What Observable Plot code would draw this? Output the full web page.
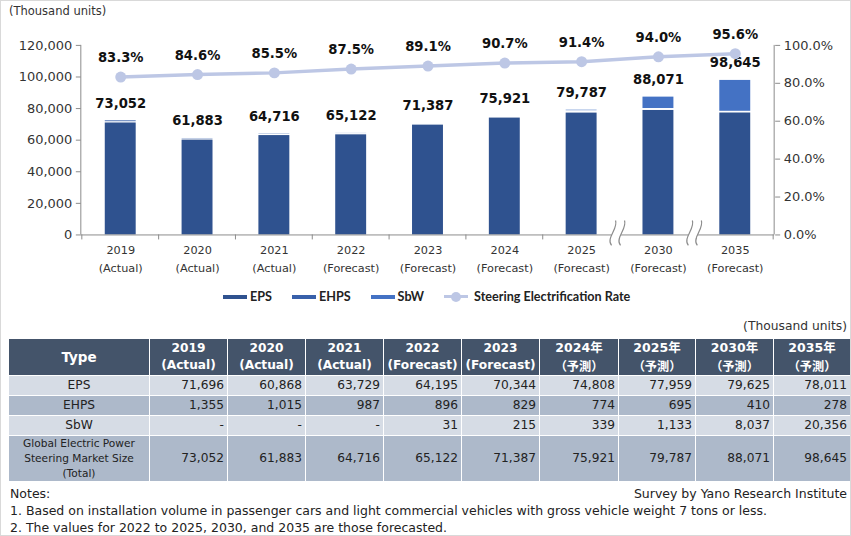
<!DOCTYPE html>
<html>
<head>
<meta charset="utf-8">
<script src="https://cdn.jsdelivr.net/npm/d3@7"></script>
<script src="https://cdn.jsdelivr.net/npm/@observablehq/plot@0.6"></script>
<style>
  html, body { margin: 0; padding: 0; background: #fff; }
  #root { position: relative; width: 851px; height: 536px; overflow: hidden; font-family: "DejaVu Sans", sans-serif; color: #222; box-sizing: border-box; border: 1px solid #d9d9d9; }
  #root > * { position: absolute; }
  .unit { font-size: 11.5px; color: #333; }
  #legend { left: 222px; top: 288px; display: flex; align-items: center; font-family: Lato, "Liberation Sans", sans-serif; font-weight: 700; font-size: 12.6px; color: #222; }
  #legend .item { display: flex; align-items: center; margin-right: 20px; }
  #legend .sw { width: 24px; height: 4px; margin-right: 3px; }
  #legend .ln { position: relative; width: 24px; height: 3px; margin-right: 6px; }
  #legend .ln i { position: absolute; left: 7px; top: -3.5px; width: 10px; height: 10px; border-radius: 50%; }
  table { border-collapse: collapse; table-layout: fixed; }
  td, th { border: 1px solid #fff; padding: 0 3px; font-size: 12.2px; }
  th { background: #44546A; color: #fff; font-weight: 700; font-size: 12.2px; line-height: 17px; height: 35px; text-align: center; }
  th span { display: block; }
  th.type { font-size: 13.5px; }
  th.cjk { font-family: "DejaVu Sans", "Noto Sans CJK JP", sans-serif; font-size: 12.5px; line-height: 18px; }
  th.cjk span.b { font-family: "Noto Sans CJK JP", sans-serif; font-size: 12.2px; }
  td { text-align: right; height: 19px; line-height: 19px; }
  td.lab { text-align: center; }
  td.lab.small { font-size: 10.6px; line-height: 15px; }
  tr.odd td { background: #D6DCE5; }
  tr.even td { background: #ADB9CA; }
  .notes { font-size: 12.5px; color: #222; line-height: 17px; }
</style>
</head>
<body>
<div id="root"></div>
<script>
// ---- data ----
const years = ["2019","2020","2021","2022","2023","2024","2025","2030","2035"];
const status = ["Actual","Actual","Actual","Forecast","Forecast","Forecast","Forecast","Forecast","Forecast"];
const tableHeadTop = ["2019","2020","2021","2022","2023","2024年","2025年","2030年","2035年"];
const tableHeadBottom = ["(Actual)","(Actual)","(Actual)","(Forecast)","(Forecast)","（予測）","（予測）","（予測）","（予測）"];
const types = ["EPS","EHPS","SbW"];
const eps  = [71696,60868,63729,64195,70344,74808,77959,79625,78011];
const ehps = [1355,1015,987,896,829,774,695,410,278];
const sbw  = [null,null,null,31,215,339,1133,8037,20356];
const total = [73052,61883,64716,65122,71387,75921,79787,88071,98645];
const rate = [83.3,84.6,85.5,87.5,89.1,90.7,91.4,94.0,95.6];
const leftTicks = [0,20000,40000,60000,80000,100000,120000];
const rightTicks = [0,20,40,60,80,100];
const breakAfter = ["2025","2030"];

const colors = ["#2F528F","#3860AA","#4472C4"];
const lineColor = "#BDC7E5";
const yMax = 120000;
const rateToY = r => r / 100 * yMax;

const series = [eps, ehps, sbw];
const stacked = [];
years.forEach((y, i) => types.forEach((t, k) => stacked.push({year: y, type: t, value: series[k][i] || 0})));
const points = years.map((y, i) => ({year: y, status: status[i], total: total[i], rate: rate[i]}));

const root = document.getElementById("root");

// unit label
const u1 = document.createElement("div");
u1.className = "unit"; u1.style.left = "8px"; u1.style.top = "3px";
u1.textContent = "(Thousand units)";
root.appendChild(u1);

// custom decoration mark: axis lines, band-boundary ticks, break symbols
function decor(index, scales, values, dim) {
  const {width, height, marginLeft, marginRight, marginTop, marginBottom} = dim;
  const n = years.length;
  const x = scales.x;
  let step = (width - marginLeft - marginRight) / n;
  if (x && x.step) step = x.step();
  const bw = x && x.bandwidth ? x.bandwidth() : 0;
  const center = y => (x ? x(y) + bw / 2 : marginLeft + step * (years.indexOf(y) + 0.5));
  const y0 = height - marginBottom;
  const g = d3.create("svg:g").attr("fill", "none").attr("stroke", "#8c8c8c");
  g.append("line").attr("x1", marginLeft).attr("x2", marginLeft).attr("y1", marginTop).attr("y2", y0);
  g.append("line").attr("x1", width - marginRight).attr("x2", width - marginRight).attr("y1", marginTop).attr("y2", y0);
  const bounds = [center(years[0]) - step / 2, ...years.map(y => center(y) + step / 2)];
  bounds.forEach(b => g.append("line").attr("x1", b).attr("x2", b).attr("y1", y0).attr("y2", y0 + 5));
  breakAfter.forEach(y => {
    const c = center(y) + step / 2;
    const c1 = `M${c-8},${y0+11} C${c-14},${y0+4} ${c-1},${y0-6} ${c-4},${y0-14}`;
    const c2 = `M${c+1},${y0+11} C${c-5},${y0+4} ${c+8},${y0-6} ${c+5},${y0-14}`;
    g.append("path").attr("d", `M${c-8},${y0+11} C${c-14},${y0+4} ${c-1},${y0-6} ${c-4},${y0-14} L${c+5},${y0-14} C${c+8},${y0-6} ${c-5},${y0+4} ${c+1},${y0+11} Z`)
      .attr("fill", "#fff").attr("stroke", "none");
    g.append("path").attr("d", c1).attr("stroke-width", 1.2);
    g.append("path").attr("d", c2).attr("stroke-width", 1.2);
  });
  return g.node();
}

const chart = Plot.plot({
  width: 851,
  height: 282,
  marginLeft: 80,
  marginRight: 76,
  marginTop: 44,
  marginBottom: 48,
  style: {fontFamily: "DejaVu Sans, sans-serif", fontSize: "13px", color: "#333", background: "transparent"},
  x: {domain: years, paddingInner: 0.6, paddingOuter: 0.3, axis: null},
  y: {domain: [0, yMax], axis: null},
  color: {domain: types, range: colors},
  marks: [
    Plot.barY(stacked, {x: "year", y: "value", fill: "type", insetTop: 1.3}),
    Plot.ruleY([0], {stroke: "#8c8c8c"}),
    decor,
    Plot.axisY(leftTicks, {anchor: "left", tickSize: 5, tickPadding: 4, stroke: "#8c8c8c", fill: "#333", tickFormat: d3.format(","), fontSize: 13}),
    Plot.axisY(rightTicks.map(rateToY), {anchor: "right", tickSize: 5, tickPadding: 4, stroke: "#8c8c8c", fill: "#333", tickFormat: v => (v / yMax * 100).toFixed(1) + "%", fontSize: 13}),
    Plot.text(points, {x: "year", frameAnchor: "bottom", lineAnchor: "top", dy: 7, lineHeight: 1.55, fontSize: 11.3, fill: "#333", text: d => `${d.year}\n(${d.status})`}),
    Plot.text(points, {x: "year", y: "total", dy: -16, text: d => d3.format(",")(d.total), fontWeight: "bold", fontSize: 13.2, fill: "#111"}),
    Plot.line(points, {x: "year", y: d => rateToY(d.rate), stroke: lineColor, strokeWidth: 3.5}),
    Plot.dot(points, {x: "year", y: d => rateToY(d.rate), r: 5.5, fill: lineColor}),
    Plot.text(points, {x: "year", y: d => rateToY(d.rate), dy: -19, text: d => d.rate.toFixed(1) + "%", fontWeight: "bold", fontSize: 13.2, fill: "#111"})
  ]
});
chart.style.left = "0px"; chart.style.top = "0px";
root.appendChild(chart);

// legend
const legend = document.createElement("div");
legend.id = "legend";
types.forEach((t, k) => {
  const it = document.createElement("div"); it.className = "item";
  it.innerHTML = `<span class="sw" style="background:${colors[k]}"></span><span>${t}</span>`;
  legend.appendChild(it);
});
const li = document.createElement("div"); li.className = "item";
li.innerHTML = `<span class="ln" style="background:${lineColor}"><i style="background:${lineColor}"></i></span><span>Steering Electrification Rate</span>`;
legend.appendChild(li);
root.appendChild(legend);

// table unit
const u2 = document.createElement("div");
u2.className = "unit"; u2.style.right = "3px"; u2.style.top = "318px"; u2.style.fontSize = "12.3px";
u2.textContent = "(Thousand units)";
root.appendChild(u2);

// table
const fmt = v => v == null ? "-" : d3.format(",")(v);
const widths = [141,78,78,78,78,78,79,77,78,77];
let html = "<colgroup>" + widths.map(w => `<col style="width:${w}px">`).join("") + "</colgroup>";
html += `<tr><th class="type">Type</th>` + tableHeadTop.map((t, i) =>
  `<th class="${i >= 5 ? 'cjk' : ''}"><span>${t}</span><span class="b">${tableHeadBottom[i]}</span></th>`).join("") + "</tr>";
const rows = [["EPS", eps, "odd"], ["EHPS", ehps, "even"], ["SbW", sbw, "odd"]];
rows.forEach(([name, arr, cls]) => {
  html += `<tr class="${cls}"><td class="lab">${name}</td>` + arr.map(v => `<td>${fmt(v)}</td>`).join("") + "</tr>";
});
html += `<tr class="even"><td class="lab small" style="height:45px">Global Electric Power<br>Steering Market Size<br>(Total)</td>` + total.map(v => `<td>${fmt(v)}</td>`).join("") + "</tr>";
const table = document.createElement("table");
table.innerHTML = html;
table.style.left = "7px"; table.style.top = "337px"; table.style.width = "843px";
root.appendChild(table);

// notes
const notes = document.createElement("div");
notes.className = "notes"; notes.style.left = "9px"; notes.style.top = "484px";
notes.innerHTML = "Notes:<br>1. Based on installation volume in passenger cars and light commercial vehicles with gross vehicle weight 7 tons or less.<br>2. The values for 2022 to 2025, 2030, and 2035 are those forecasted.";
root.appendChild(notes);
const src = document.createElement("div");
src.className = "notes"; src.style.right = "3px"; src.style.top = "484px";
src.textContent = "Survey by Yano Research Institute";
root.appendChild(src);
</script>
</body>
</html>
